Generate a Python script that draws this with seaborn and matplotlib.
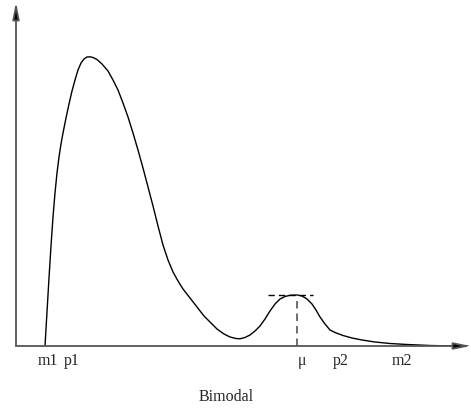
import matplotlib
matplotlib.use("Agg")
import matplotlib.pyplot as plt
import seaborn as sns
import pandas as pd

# Curve, in pixel positions (x from left, y from top)
curve_px_x = [45, 47, 49, 51, 53, 55, 57, 59, 61, 63, 66, 69, 72, 75, 78, 81, 84,
              87, 90, 93, 97, 102, 108, 113, 118, 123, 128, 133, 138, 143, 148,
              153, 158, 163, 168, 173, 178, 183, 190, 197, 204, 210, 217, 224,
              230, 236, 240, 245, 250, 255, 260, 265, 270, 275, 280, 285, 290,
              297, 302, 307, 312, 316, 320, 325, 330, 335, 343, 352, 362, 375,
              390, 407, 430, 455, 468]
curve_px_y = [346, 312, 278, 246, 217, 193, 173, 157, 144, 133, 118, 104, 91, 80,
              70, 63, 59, 57, 56.8, 57.5, 59.5, 64, 71, 80, 90, 103, 117, 133,
              150, 168, 187, 206, 226, 245, 260, 272, 281, 289, 298, 307, 316,
              322, 329, 334, 337, 338.5, 338.8, 337.5, 335, 331, 326, 319, 311,
              304, 299, 296.5, 295.3, 295, 296, 299, 304, 310, 317, 324, 330,
              332.5, 335.5, 338, 340, 342, 343.5, 344.5, 345.5, 346, 346]

tick_px = [48, 72, 302, 341, 402]
tick_labels = ["m1", "p1", "\u03bc", "p2", "m2"]
xlabel = "Bimodal"

mu_px = 297
peak_px = 295
dash_left_px = 268
dash_right_px = 313

sns.set_style("white")
plt.rcParams["font.family"] = ["Liberation Serif", "DejaVu Serif"]

W, H = 471, 411
ox, oy = 16, 346
fig = plt.figure(figsize=(W / 100, H / 100), dpi=100)
ax = fig.add_axes([ox / W, (H - oy) / H, (W - ox) / W, (oy - 2) / H])
ax.set_xlim(0, W - ox)
ax.set_ylim(0, oy - 2)

df = pd.DataFrame({"x": [v - ox for v in curve_px_x],
                   "y": [oy - v for v in curve_px_y]})
sns.lineplot(data=df, x="x", y="y", ax=ax, color="black", linewidth=1.0,
             sort=False, estimator=None)

ax.plot([dash_left_px - ox, dash_right_px - ox], [oy - peak_px, oy - peak_px],
        color="black", linewidth=1.0, dashes=(4.5, 3))
ax.plot([mu_px - ox, mu_px - ox], [0, oy - peak_px], color="#555555",
        linewidth=1.2, dashes=(4.5, 3))

for s in ax.spines.values():
    s.set_visible(False)

arrow_kw = dict(arrowstyle="-|>,head_length=1.0,head_width=0.2",
                lw=1.3, shrinkA=0, shrinkB=0, fc="black", ec="#555555")
ax.annotate("", xy=(1.0, 0), xytext=(0, 0), xycoords="axes fraction",
            textcoords="axes fraction", arrowprops=arrow_kw)
ax.annotate("", xy=(0, 1.0), xytext=(0, 0), xycoords="axes fraction",
            textcoords="axes fraction", arrowprops=arrow_kw)

ax.set_xticks([t - ox for t in tick_px])
ax.set_xticklabels(tick_labels, fontsize=11.5)
ax.set_yticks([])
ax.tick_params(axis="x", length=0, pad=5)
ax.set_xlabel(xlabel, fontsize=11.5)
ax.xaxis.set_label_coords((226 - ox) / (W - ox), -(389 - oy) / (oy - 2))
ax.set_ylabel("")

fig.savefig("out.png", dpi=100)
